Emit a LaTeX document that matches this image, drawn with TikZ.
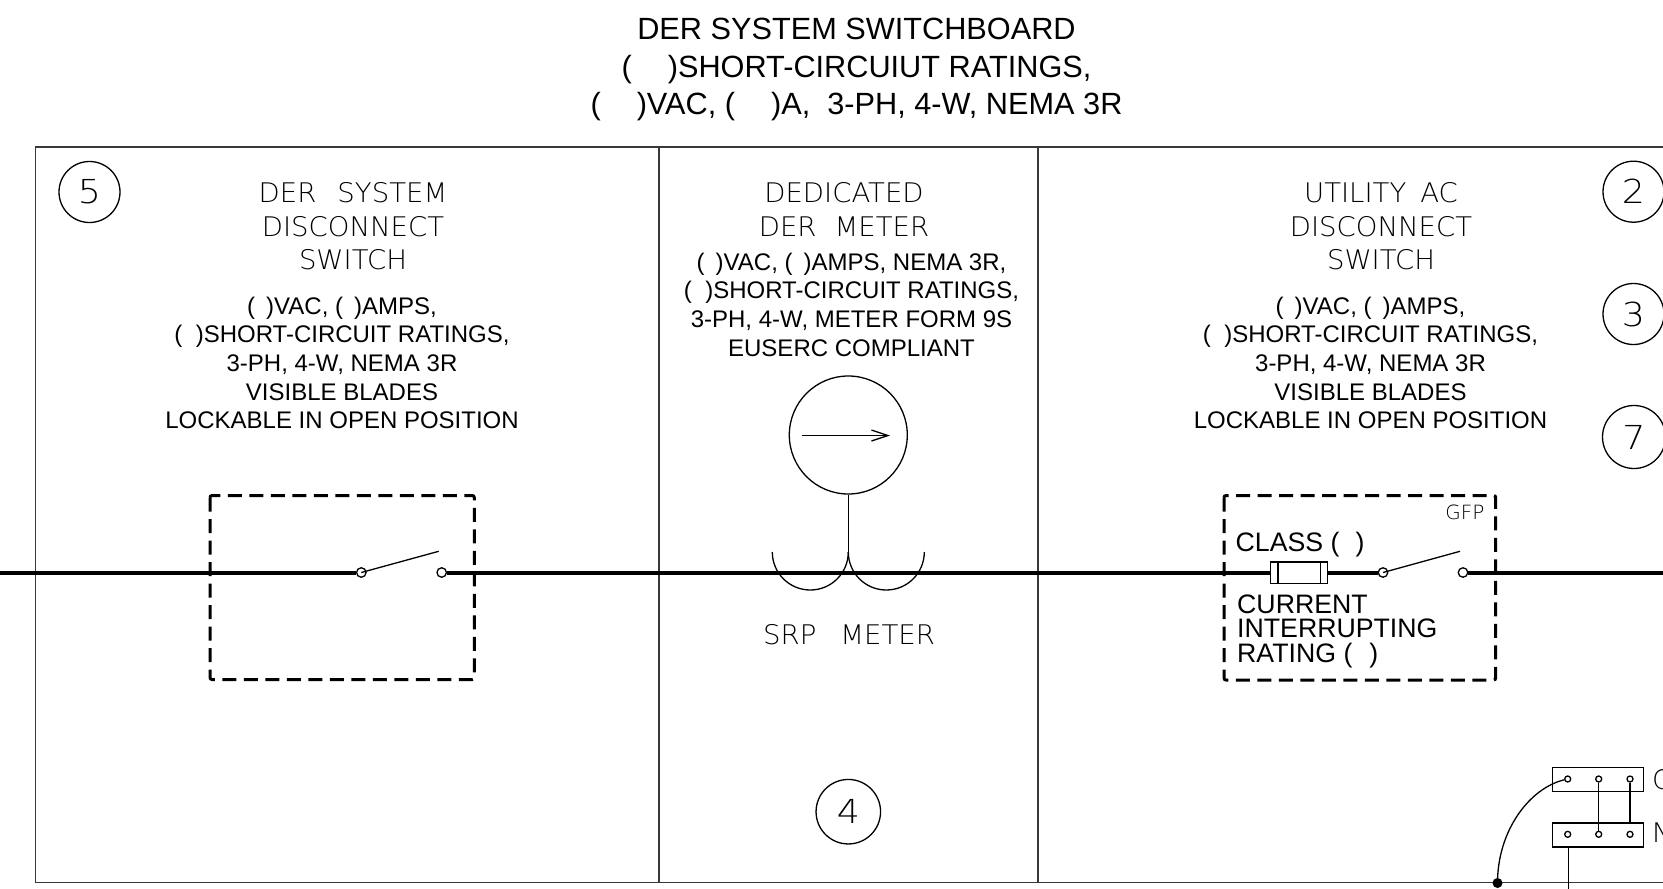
\documentclass[tikz,border=0pt]{standalone}
\usepackage{fontspec}
\setmainfont{Liberation Sans}
\newfontfamily\cadfont[FakeStretch=1.02]{DejaVu Sans ExtraLight}
\newfontfamily\cadnum[FakeStretch=1.1]{DejaVu Sans ExtraLight}
\usetikzlibrary{arrows.meta}
\tikzset{
  x=1pt,y=-1pt,
  frame/.style={line width=1.3pt,draw=black!78},
  bus/.style={line width=4pt},
  thin line/.style={line width=1.3pt},
  dashbox/.style={draw,line width=3pt,dash pattern=on 14pt off 7.5pt,rounded corners=2pt},
  body/.style={font=\fontsize{24}{28.7}\selectfont,align=center,inner sep=0pt},
  lab/.style={font=\fontsize{26.7}{24.6}\selectfont,align=left,inner sep=0pt,anchor=base west},
  cad/.style={font=\cadfont\fontsize{27}{33.5}\selectfont,align=center,inner sep=0pt},
  bubble/.style={circle,draw,line width=1.3pt,inner sep=0pt,minimum size=#1,font=\cadnum\fontsize{33}{33}\selectfont},
  term/.style={circle,draw,fill=white,line width=1.3pt,inner sep=0pt,minimum size=#1},
  bar/.style={draw,line width=1.3pt,minimum width=90.6pt,minimum height=24pt,inner sep=0pt},
}
\begin{document}
\begin{tikzpicture}
\useasboundingbox (0,0) rectangle (1663,889);
\clip (0,0) rectangle (1663,889);
% title
\node[inner sep=0pt,align=center,font=\fontsize{30.7}{37.2}\selectfont] (title) at (856.5,69.5)
  {DER SYSTEM SWITCHBOARD\\(\hspace{36pt})SHORT-CIRCUIUT RATINGS,\\(\hspace{36pt})VAC, (\hspace{36pt})A,\hspace{17pt}3-PH, 4-W, NEMA 3R};
% frame
\coordinate (fTL) at (35.5,147); \coordinate (fBL) at (35.5,882.5);
\coordinate (fTR) at (1663,147); \coordinate (fBR) at (1663,882.5);
\coordinate (d1T) at (659,147); \coordinate (d1B) at (659,882);
\coordinate (d2T) at (1038,147); \coordinate (d2B) at (1038,882);
\draw[frame] (fTR) -- (fTL) -- (fBL) -- (fBR);
\draw[frame] (d1T) -- (d1B);
\draw[frame] (d2T) -- (d2B);
% dashed enclosures
\draw[dashbox] (210,495.5) rectangle (474.3,679.5);
\draw[dashbox] (1224,495.5) rectangle (1495.7,680);
% bus terminals
\coordinate (busL) at (0,572.5); \coordinate (busR) at (1663,572.5);
\node[term=9.5pt] (ls1) at (361.3,572.5) {};
\node[term=9.5pt] (ls2) at (441.7,572.5) {};
\node[term=9.5pt] (rs1) at (1383,572.5) {};
\node[term=9.5pt] (rs2) at (1463,572.5) {};
\coordinate (lsb) at (438.7,551.3);
\coordinate (rsb) at (1460,551.3);
\draw[bus] (busL) -- (ls1);
\draw[bus] (ls2) -- (rs1);
\draw[bus] (rs2) -- (busR);
\draw[thin line] (ls1.center) -- (lsb);
\draw[thin line] (rs1.center) -- (rsb);
% fuse
\node[draw,fill=white,line width=1.3pt,minimum width=57pt,minimum height=21.3pt,inner sep=0pt] (fuse) at (1299,572.7) {};
\draw[thin line] ([xshift=8pt]fuse.north west) -- ([xshift=8pt]fuse.south west);
\draw[thin line] ([xshift=-8pt]fuse.north east) -- ([xshift=-8pt]fuse.south east);
% meter
\node[circle,draw,line width=1.3pt,minimum size=118pt,inner sep=0pt] (meter) at (848.3,435) {};
\coordinate (aL) at (802,435.5); \coordinate (aR) at (890,435.5);
\draw[thin line,-{Straight Barb[length=16.5pt,width=11pt]}] (aL) -- (aR);
\coordinate (cusp) at (848.3,552);
\draw[thin line] (meter.south) -- (cusp);
\coordinate (arcL) at (772.3,552); \coordinate (arcR) at (924.3,552);
\draw[thin line] (arcL) .. controls (772.3,573) and (789.3,590) .. (810.3,590) .. controls (831.3,590) and (848.3,573) .. (cusp);
\draw[thin line] (cusp) .. controls (848.3,573) and (865.3,590) .. (886.3,590) .. controls (907.3,590) and (924.3,573) .. (arcR);
% ground / neutral bars
\node[bar] (gbar) at (1598,779.7) {};
\node[bar] (nbar) at (1598,835) {};
\node[term=6pt] (g1) at (1567.7,779) {};
\node[term=6pt] (g2) at (1598.7,779) {};
\node[term=6pt] (g3) at (1630,779) {};
\node[term=6pt] (n1) at (1567.7,834.3) {};
\node[term=6pt] (n2) at (1598.7,834.3) {};
\node[term=6pt] (n3) at (1630,834.3) {};
\draw[thin line] (g2) -- (n2);
\draw[thin line] (g3) -- (g3 |- nbar.north);
\coordinate (stemB) at (1568.3,889);
\draw[thin line] (nbar.south -| stemB) -- (stemB);
\node[circle,fill=black,inner sep=0pt,minimum size=10pt] (dot) at (1497.5,883) {};
\draw[thin line] (dot.center) .. controls (1497.5,830) and (1530,788) .. (g1);
\node[cad,anchor=west] (glab) at (1652,779.5) {G};
\node[cad,anchor=west] (nlab) at (1652,833) {N};
% left column
\node[bubble=61pt] (n5) at (89.5,192) {5};
\node[cad] (t5) at (353,226.5) {DER\hspace{21pt}SYSTEM\\DISCONNECT\\SWITCH};
\node[body] (b5) at (342,363) {(\hspace{11pt})VAC, (\hspace{11pt})AMPS,\\(\ \ )SHORT-CIRCUIT RATINGS,\\3-PH, 4-W, NEMA 3R\\VISIBLE BLADES\\LOCKABLE IN OPEN POSITION};
% middle column
\node[cad] (t4) at (844,209.5) {DEDICATED\\DER\hspace{18pt}METER};
\node[body] (b4) at (851.5,304.5) {(\hspace{11pt})VAC, (\hspace{11pt})AMPS, NEMA 3R,\\(\ \ )SHORT-CIRCUIT RATINGS,\\3-PH, 4-W, METER FORM 9S\\EUSERC COMPLIANT};
\node[cad] (srp) at (849,635) {SRP\hspace{24pt}METER};
\node[bubble=64.5pt] (n4) at (848.3,811.7) {4};
% right column
\node[cad] (t2) at (1381,226.5) {UTILITY\hspace{14pt}AC\\DISCONNECT\\SWITCH};
\node[body] (b2) at (1370.5,363) {(\hspace{11pt})VAC, (\hspace{11pt})AMPS,\\(\ \ )SHORT-CIRCUIT RATINGS,\\3-PH, 4-W, NEMA 3R\\VISIBLE BLADES\\LOCKABLE IN OPEN POSITION};
\node[bubble=61pt] (n2c) at (1633.5,191.7) {2};
\node[bubble=61pt] (n3c) at (1633.5,314) {3};
\node[bubble=63pt] (n7c) at (1634,437) {7};
\node[cad,font=\cadfont\fontsize{19.6}{20}\selectfont] (gfp) at (1465,512) {GFP};
\node[lab] (cls) at (1235.5,551) {CLASS (\hspace{16pt})};
\node[lab] (cur) at (1237,613.3) {CURRENT};
\node[lab] (int) at (1237,637.8) {INTERRUPTING};
\node[lab] (rat) at (1237,662.7) {RATING (\hspace{17pt})};
\end{tikzpicture}
\end{document}
